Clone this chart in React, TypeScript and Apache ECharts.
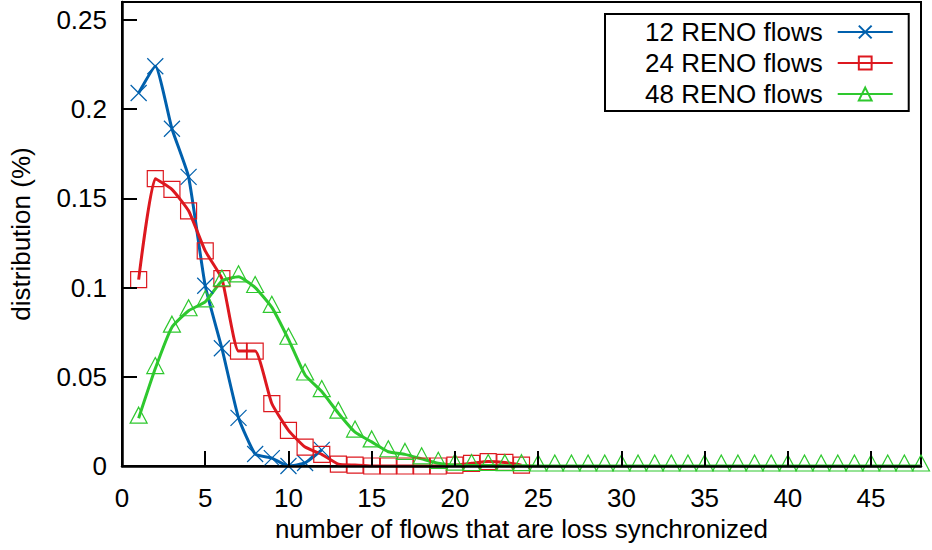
import React, { useEffect, useRef } from "react";
import * as echarts from "echarts";

const seriesNames = ["12 RENO flows", "24 RENO flows", "48 RENO flows"];
const colors = ["#0060ad", "#dd181f", "#2ec82e"];

const reno12 = [0.209, 0.224, 0.189, 0.162, 0.101, 0.066, 0.027, 0.0067, 0.0044, 0.0, 0.0017, 0.009];

const reno24 = [
  0.1044, 0.161, 0.155, 0.143, 0.1205, 0.105, 0.0644, 0.0644, 0.035, 0.02, 0.0106, 0.0065,
  0.001, 0.0005, 0.0, 0.0, 0.0, 0.0, 0.0, 0.0005, 0.0015, 0.0025, 0.002, 0.0005,
];

const reno48 = [
  0.0268, 0.0546, 0.0778, 0.087, 0.092, 0.1037, 0.106, 0.1, 0.0889, 0.071, 0.051, 0.0417,
  0.0296, 0.019, 0.0135, 0.008, 0.0065, 0.004, 0.0015, 0.0005, 0.0003, 0.0003, 0.0002, 0.0002,
  0, 0, 0, 0, 0, 0, 0, 0, 0, 0, 0, 0, 0, 0, 0, 0, 0, 0, 0, 0, 0, 0, 0, 0,
];

const xTitle = "number of flows that are loss synchronized";
const yTitle = "distribution (%)";

const FONT = "Liberation Sans, Arial, sans-serif";

export default function App() {
  const ref = useRef<HTMLDivElement>(null);
  useEffect(() => {
    if (!ref.current) return;
    const chart = echarts.init(ref.current, null, { renderer: "svg" });
    const toPairs = (arr: number[]) => arr.map((v, i) => [i + 1, v]);
    const symbols = ["path://M0,0L10,10M10,0L0,10", "rect", "triangle"];
    const offsets = [[0, 0], [0, 0], [0, -3]];
    const datasets = [reno12, reno24, reno48];
    chart.setOption({
      animation: false,
      backgroundColor: "#fff",
      textStyle: { fontFamily: FONT },
      grid: {
        left: 122,
        right: 11,
        top: 2,
        bottom: 84,
        show: true,
        borderColor: "#000",
        borderWidth: 2,
        backgroundColor: "transparent",
      },
      legend: {
        orient: "vertical",
        left: 605,
        top: 14,
        align: "right",
        itemWidth: 55,
        itemHeight: 16,
        itemGap: 1,
        padding: [3, 15, 2, 40],
        borderColor: "#000",
        borderWidth: 2,
        backgroundColor: "#fff",
        textStyle: {
          fontSize: 26,
          fontFamily: FONT,
          color: "#000",
          lineHeight: 30,
          padding: [0, 10, 0, 0],
        },
        data: seriesNames,
      },
      xAxis: {
        type: "value",
        min: 0,
        max: 48,
        interval: 5,
        z: 5,
        name: xTitle,
        nameLocation: "middle",
        nameGap: 46,
        nameTextStyle: { fontSize: 26, fontFamily: FONT, color: "#000" },
        axisLine: { show: true, onZero: false, lineStyle: { color: "#000", width: 2.5 } },
        axisTick: { show: true, inside: true, length: 15, lineStyle: { color: "#000", width: 2 } },
        axisLabel: {
          fontSize: 26,
          fontFamily: FONT,
          color: "#000",
          margin: 19,
          showMaxLabel: false,
        },
        splitLine: { show: false },
      },
      yAxis: {
        type: "value",
        min: 0,
        max: 0.26,
        interval: 0.05,
        z: 5,
        name: yTitle,
        nameLocation: "middle",
        nameGap: 88,
        nameTextStyle: { fontSize: 26, fontFamily: FONT, color: "#000" },
        axisLine: { show: true, onZero: false, lineStyle: { color: "#000", width: 2.5 } },
        axisTick: { show: true, inside: true, length: 15, lineStyle: { color: "#000", width: 2 } },
        axisLabel: {
          fontSize: 26,
          fontFamily: FONT,
          color: "#000",
          margin: 15,
          showMaxLabel: false,
          formatter: (v: number) => String(Math.round(v * 100) / 100),
        },
        splitLine: { show: false },
      },
      series: datasets.map((arr, k) => ({
        name: seriesNames[k],
        type: "line",
        data: toPairs(arr),
        smooth: 0.15,
        symbol: symbols[k],
        symbolSize: k === 2 ? [17, 16] : 16,
        symbolOffset: offsets[k],
        showAllSymbol: true,
        color: colors[k],
        lineStyle: { color: colors[k], width: 3 },
        itemStyle: { color: "transparent", borderColor: colors[k], borderWidth: 1.2 },
        z: 2,
      })),
    });
    return () => chart.dispose();
  }, []);
  return (
    <div
      ref={ref}
      style={{ position: "absolute", left: 0, top: 0, width: 932, height: 550 }}
    />
  );
}
